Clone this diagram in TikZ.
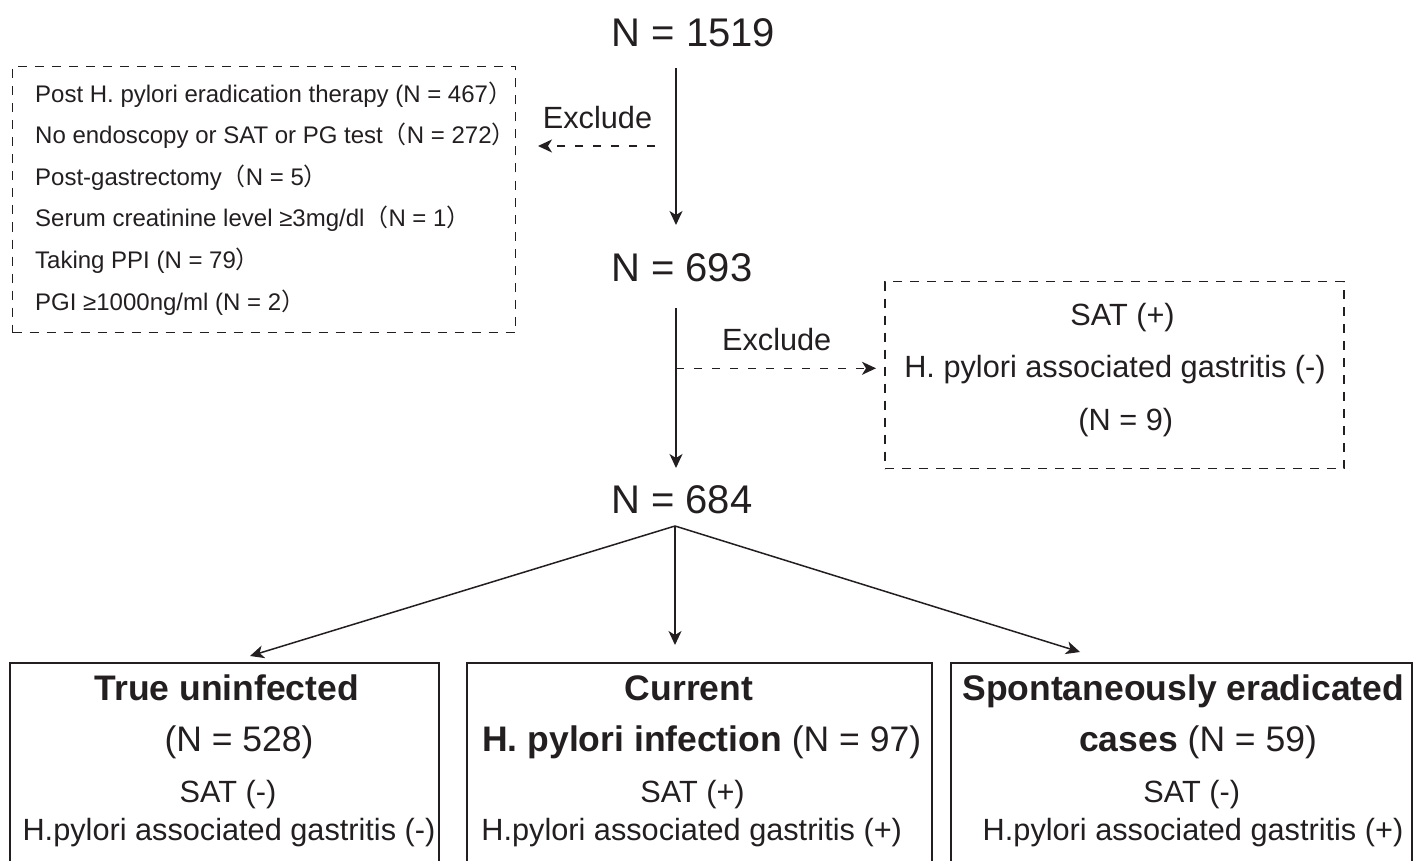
\documentclass[tikz,border=0pt]{standalone}
\usepackage{fontspec}
\setmainfont{Liberation Sans}
\newfontfamily\cjkfw{Noto Sans CJK SC}
\usetikzlibrary{arrows.meta}
\definecolor{ink}{HTML}{231F20}
\newcommand\fwl{{\cjkfw （}}
\newcommand\fwr{{\cjkfw ）}}
\begin{document}
\begin{tikzpicture}[x=1pt,y=-1pt,
  arr/.style={draw=ink, line width=1.5pt, -{Stealth[length=14pt,width=13pt,inset=4pt]}},
  darr/.style={arr, dash pattern=on 8pt off 10pt},
  dbox/.style={draw=ink, line width=1.4pt, dash pattern=on 9pt off 8pt, inner sep=0pt, outer sep=0pt, anchor=north west},
  sbox/.style={draw=ink, line width=1.6pt, inner sep=0pt, outer sep=0pt, anchor=north west},
  big/.style={text=ink, inner sep=0pt, anchor=base, font=\fontsize{40}{48}\selectfont},
  mid/.style={text=ink, inner sep=0pt, anchor=base, font=\fontsize{30.7}{36}\selectfont},
  ttl/.style={text=ink, inner sep=0pt, anchor=base, font=\fontsize{35.5}{42}\selectfont},
  ttlb/.style={text=ink, inner sep=0pt, anchor=base, font=\fontsize{35.5}{42}\selectfont\bfseries},
  sml/.style={text=ink, inner sep=0pt, anchor=base west, font=\fontsize{24}{28}\selectfont},
]
\useasboundingbox (0,0) rectangle (1423,861);
\clip (0,0) rectangle (1423,861);

% main counts
\node[big] (n1) at (693.3,47) {N = 1519};
\node[big] (n2) at (681.7,281.7) {N = 693};
\node[big] (n3) at (681.7,513.5) {N = 684};

% exclusion labels
\node[mid] (ex1) at (597.5,128.3) {Exclude};
\node[mid] (ex2) at (776.7,350) {Exclude};

% left dashed box
\node[dbox, minimum width=503pt, minimum height=266pt] (lb) at (12.5,66.5) {};
\node[sml] (l1) at (35,102.7) {Post H. pylori eradication therapy (N = 467\fwr};
\node[sml] (l2) at (35,143.8) {No endoscopy or SAT or PG test\fwl N = 272\fwr};
\node[sml] (l3) at (35,185.2) {Post-gastrectomy\fwl N = 5\fwr};
\node[sml] (l4) at (35,226.7) {Serum creatinine level ≥3mg/dl\fwl N = 1\fwr};
\node[sml] (l5) at (35,268.3) {Taking PPI (N = 79\fwr};
\node[sml] (l6) at (35,310) {PGI ≥1000ng/ml (N = 2\fwr};

% right dashed box
\node[dbox, minimum width=459pt, minimum height=187pt] (rb) at (885,281.5) {};
\node[mid] (r1) at (1122.5,325) {SAT (+)};
\node[mid] (r2) at (1115,377) {H. pylori associated gastritis (-)};
\node[mid] (r3) at (1125.8,430) {(N = 9)};

% bottom boxes
\node[sbox, minimum width=429pt, minimum height=205pt] (b1) at (10,663) {};
\node[sbox, minimum width=465pt, minimum height=205pt] (b2) at (467,663) {};
\node[sbox, minimum width=461pt, minimum height=205pt] (b3) at (951,663) {};

\node[ttlb] (b1a) at (226.7,700.5) {True uninfected};
\node[ttl]  (b1b) at (239,751) {(N = 528)};
\node[mid]  (b1c) at (228,802) {SAT (-)};
\node[mid]  (b1d) at (229,840) {H.pylori associated gastritis (-)};

\node[ttlb] (b2a) at (689,700.5) {Current};
\node[ttl]  (b2b) at (701.7,751) {\textbf{H. pylori infection} (N = 97)};
\node[mid]  (b2c) at (692.5,802) {SAT (+)};
\node[mid]  (b2d) at (691.7,840) {H.pylori associated gastritis (+)};

\node[ttlb] (b3a) at (1183.3,700.5) {Spontaneously eradicated};
\node[ttl]  (b3b) at (1198,751) {\textbf{cases} (N = 59)};
\node[mid]  (b3c) at (1191.7,802) {SAT (-)};
\node[mid]  (b3d) at (1193,840) {H.pylori associated gastritis (+)};

% connectors
\coordinate (t1s) at (676,68);
\coordinate (t1e) at (676,225);
\coordinate (t2s) at (676,308);
\coordinate (t2e) at (676,468);
\coordinate (x1) at (655,146);
\coordinate (x2) at (676,368.3);
\coordinate (fan) at (675,526);
\coordinate (tipL) at (250,656);
\coordinate (tipM) at (675,645);
\coordinate (tipR) at (1080,652);

\draw[arr] (t1s) -- (t1e);
\draw[arr] (t2s) -- (t2e);
\draw[darr, shorten >=22.5pt] (x1) -- (x1 -| lb.east);
\draw[darr, shorten >=9pt] (x2) -- (x2 -| rb.west);
\draw[arr] (fan) -- (tipL);
\draw[arr] (fan) -- (tipM);
\draw[arr] (fan) -- (tipR);
\end{tikzpicture}
\end{document}
